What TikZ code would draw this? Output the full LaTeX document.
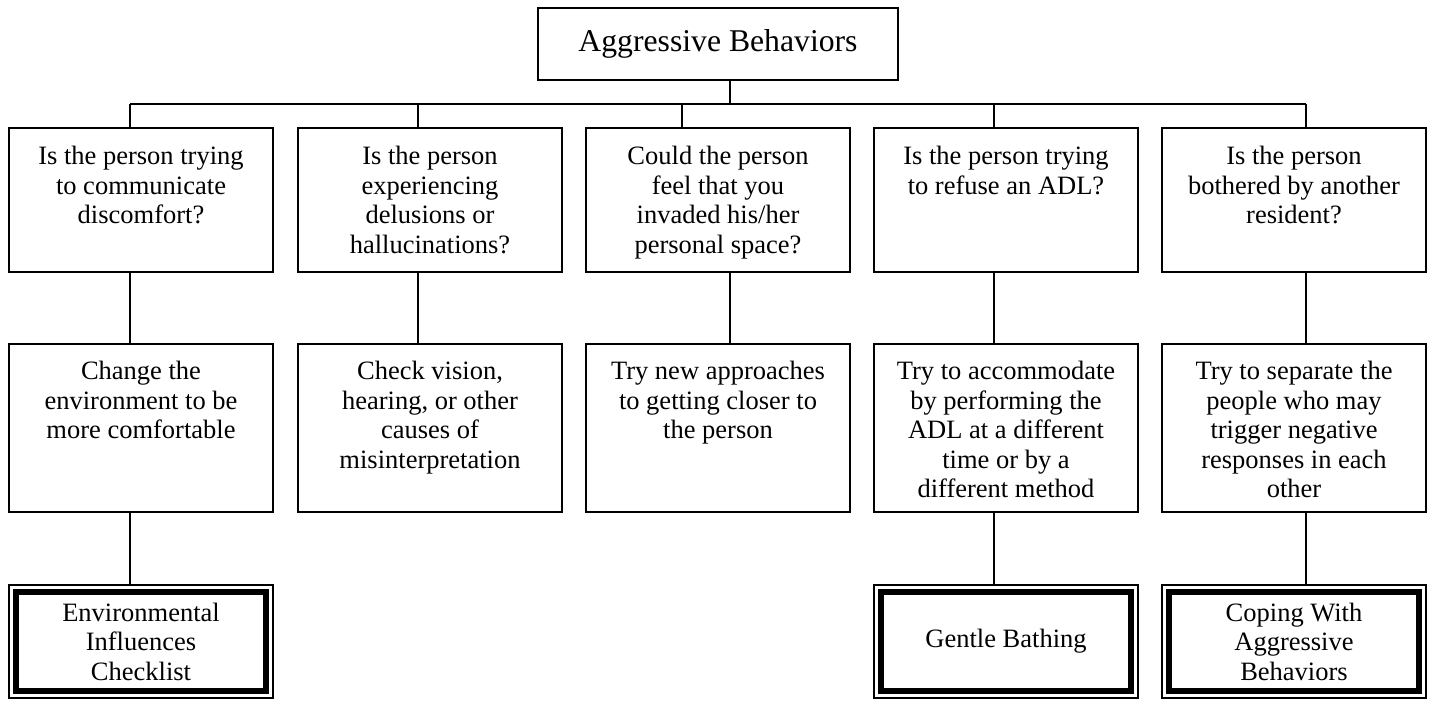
\documentclass[tikz,border=0pt]{standalone}
\usepackage{fontspec}
\setmainfont{Liberation Serif}
\usetikzlibrary{positioning}
\tikzset{
  qbox/.style={draw, line width=1.6pt, inner sep=0pt, minimum width=264pt, minimum height=144pt},
  abox/.style={draw, line width=1.6pt, inner sep=0pt, minimum width=264pt, minimum height=168pt},
  rbox/.style={draw, line width=1.2pt, inner sep=0pt, minimum width=264pt, minimum height=113pt,
    align=center, font=\fontsize{26.5}{29.5}\selectfont},
  txt/.style={anchor=north, align=center, inner sep=0pt, font=\fontsize{26.5}{29.5}\selectfont},
  link/.style={line width=1.6pt},
}
\begin{document}
\begin{tikzpicture}[x=1pt,y=-1pt]
  \useasboundingbox (0,0) rectangle (1432,706);
  \node[draw, line width=1.6pt, minimum width=360pt, minimum height=72pt,
    font=\fontsize{31.7}{36}\selectfont] (top) at (718,44) {Aggressive Behaviors};
  \node[qbox] (q1) at (141,200) {};
  \node[qbox] (q2) at (430,200) {};
  \node[qbox] (q3) at (718,200) {};
  \node[qbox] (q4) at (1006,200) {};
  \node[qbox] (q5) at (1294,200) {};
  \node[txt, below=19pt of q1.north] (q1t) {Is the person trying\\to communicate\\discomfort?};
  \node[txt, below=19pt of q2.north] (q2t) {Is the person\\experiencing\\delusions or\\hallucinations?};
  \node[txt, below=19pt of q3.north] (q3t) {Could the person\\feel that you\\invaded his/her\\personal space?};
  \node[txt, below=19pt of q4.north] (q4t) {Is the person trying\\to refuse an ADL?};
  \node[txt, below=19pt of q5.north] (q5t) {Is the person\\bothered by another\\resident?};
  \node[abox] (a1) at (141,428) {};
  \node[abox] (a2) at (430,428) {};
  \node[abox] (a3) at (718,428) {};
  \node[abox] (a4) at (1006,428) {};
  \node[abox] (a5) at (1294,428) {};
  \node[txt, below=18pt of a1.north] (a1t) {Change the\\environment to be\\more comfortable};
  \node[txt, below=18pt of a2.north] (a2t) {Check vision,\\hearing, or other\\causes of\\misinterpretation};
  \node[txt, below=18pt of a3.north] (a3t) {Try new approaches\\to getting closer to\\the person};
  \node[txt, below=18pt of a4.north] (a4t) {Try to accommodate\\by performing the\\ADL at a different\\time or by a\\different method};
  \node[txt, below=18pt of a5.north] (a5t) {Try to separate the\\people who may\\trigger negative\\responses in each\\other};
  \node[rbox] (r1) at (141,641.5) {Environmental\\Influences\\Checklist};
  \node[rbox] (r4) at (1006,641.5) {Gentle Bathing};
  \node[rbox] (r5) at (1294,641.5) {Coping With\\Aggressive\\Behaviors};
  \foreach \n in {r1,r4,r5}
    \draw[line width=6.5pt] ([shift={(7.5,7.5)}]\n.north west) rectangle ([shift={(-7.5,-7.5)}]\n.south east);
  \coordinate (hub) at (730,104);
  \foreach \n/\x in {1/130,2/418,3/682,4/994,5/1306}
    \coordinate (d\n) at (\x,104);
  \draw[link] (top.south -| hub) -- (hub);
  \draw[link] (d1) -- (d5);
  \foreach \n in {1,...,5}
    \draw[link] (d\n) -- (q\n.north -| d\n);
  \foreach \n/\dx in {1/-11,2/-12,3/12,4/-12,5/12}
    \draw[link] ([xshift=\dx pt]q\n.south) -- ([xshift=\dx pt]a\n.north);
  \foreach \n/\dx in {1/-11,4/-12,5/12}
    \draw[link] ([xshift=\dx pt]a\n.south) -- ([xshift=\dx pt]r\n.north);
\end{tikzpicture}
\end{document}
